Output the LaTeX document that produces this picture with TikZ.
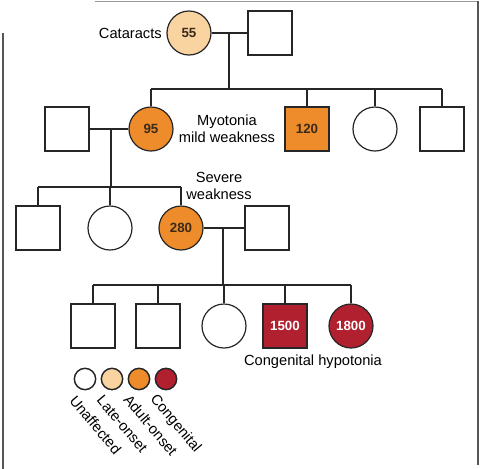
\documentclass[tikz,border=0pt]{standalone}
\usepackage{fontspec}
\setmainfont{Liberation Sans}
\definecolor{lateC}{HTML}{F9D3A0}
\definecolor{adultC}{HTML}{EE8B2A}
\definecolor{congC}{HTML}{B0202E}
\definecolor{numC}{HTML}{3A2A1A}
\definecolor{frameC}{HTML}{555555}
\begin{document}
\begin{tikzpicture}[x=0.75pt,y=-0.75pt,
  person/.style={draw=black!85,line width=0.9pt,inner sep=0pt,minimum size=33pt,
     font=\fontsize{10}{12}\selectfont\bfseries},
  male/.style={person,rectangle},
  female/.style={person,circle},
  late/.style={fill=lateC,text=numC},
  adult/.style={fill=adultC,text=numC},
  cong/.style={fill=congC,text=white},
  link/.style={draw=black!85,line width=0.9pt},
  lbl/.style={font=\fontsize{11}{12.5}\selectfont,inner sep=0pt,align=center},
  leg/.style={circle,draw=black!85,line width=1.1pt,minimum size=16pt,inner sep=0pt},
  legtxt/.style={font=\fontsize{11}{12}\selectfont,inner sep=0pt,rotate=-50,anchor=north west}
]
\useasboundingbox (0,0) rectangle (480,469);
% frame
\draw[frameC!60,line width=0.6pt] (95,1) -- (478,1);
\draw[frameC,line width=0.8pt] (478,1) -- (478,465);
\draw[frameC,line width=0.8pt] (3,33) -- (3,469);

% generation 1
\node[female,late] (g1f) at (189,33) {55};
\node[male] (g1m) at (270,33) {};
\node[lbl,anchor=east] (cat) at (162,33) {Cataracts};
\coordinate (m1) at (229,33);
\coordinate (s1) at (229,89);

% generation 2
\node[male] (g2a) at (67,129) {};
\node[female,adult] (g2b) at (151,129) {95};
\node[male,adult] (g2c) at (307,129) {120};
\node[female] (g2d) at (375,129) {};
\node[male] (g2e) at (442,129) {};
\node[lbl] (myo) at (227,129) {Myotonia\\mild weakness};
\coordinate (m2) at (111,129);
\coordinate (s2) at (111,187);

% generation 3
\node[male] (g3a) at (38,228) {};
\node[female] (g3b) at (110,228) {};
\node[female,adult] (g3c) at (181,228) {280};
\node[male] (g3d) at (267,228) {};
\node[lbl] (sev) at (219,186) {Severe\\weakness};
\coordinate (m3) at (223,228);
\coordinate (s3) at (223,285);

% generation 4
\node[male] (g4a) at (93,326) {};
\node[male] (g4b) at (158,326) {};
\node[female] (g4c) at (224,326) {};
\node[male,cong] (g4d) at (285,326) {1500};
\node[female,cong] (g4e) at (351,326) {1800};
\node[lbl] (hyp) at (313,362) {Congenital hypotonia};

% connectors gen1
\draw[link] (g1f.east) -- (g1m.west);
\draw[link] (m1) -- (s1);
\draw[link] (g2b.north |- s1) -- (g2e.north |- s1);
\foreach \c in {g2b,g2c,g2d,g2e} \draw[link] (\c.north) -- (\c.north |- s1);
% gen2
\draw[link] (g2a.east) -- (g2b.west);
\draw[link] (m2) -- (s2);
\draw[link] (g3a.north |- s2) -- (g3c.north |- s2);
\foreach \c in {g3a,g3b,g3c} \draw[link] (\c.north) -- (\c.north |- s2);
% gen3
\draw[link] (g3c.east) -- (g3d.west);
\draw[link] (m3) -- (s3);
\draw[link] (g4a.north |- s3) -- (g4e.north |- s3);
\foreach \c in {g4a,g4b,g4c,g4d,g4e} \draw[link] (\c.north) -- (\c.north |- s3);

% legend
\node[leg,fill=white] (l1) at (85,379) {};
\node[leg,fill=lateC] (l2) at (112,379) {};
\node[leg,fill=adultC] (l3) at (139,379) {};
\node[leg,fill=congC] (l4) at (166,379) {};
\node[legtxt] (t1) at (77,394) {Unaffected};
\node[legtxt] (t2) at (104,394) {Late-onset};
\node[legtxt] (t3) at (131,393) {Adult-onset};
\node[legtxt] (t4) at (158,392) {Congenital};
\end{tikzpicture}
\end{document}
